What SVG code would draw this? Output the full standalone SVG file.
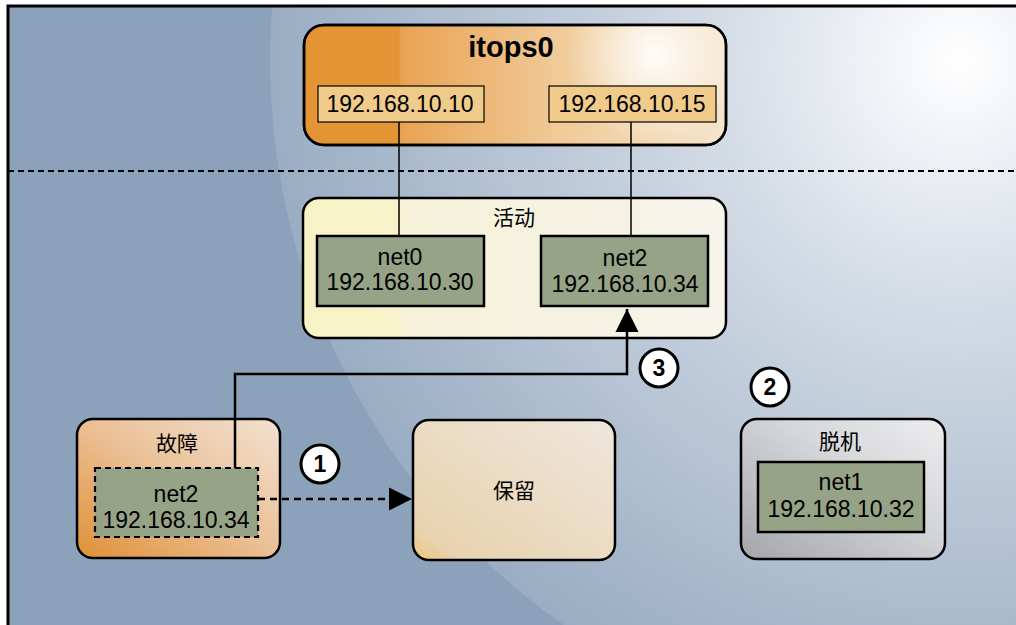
<svg xmlns="http://www.w3.org/2000/svg" width="1016" height="625" viewBox="0 0 1016 625">
<defs>
<radialGradient id="glow" cx="960" cy="60" r="690" gradientUnits="userSpaceOnUse">
<stop offset="0" stop-color="#ffffff"/>
<stop offset="0.1" stop-color="#f3f5f8"/>
<stop offset="0.35" stop-color="#d4dce6"/>
<stop offset="0.7" stop-color="#b4c2d3"/>
<stop offset="1" stop-color="#9aadc3"/>
</radialGradient>
<linearGradient id="orange" x1="304" y1="0" x2="726" y2="0" gradientUnits="userSpaceOnUse">
<stop offset="0" stop-color="#e39535"/>
<stop offset="0.225" stop-color="#e39535"/>
<stop offset="0.23" stop-color="#e9a253"/>
<stop offset="0.6" stop-color="#f0ca98"/>
<stop offset="1" stop-color="#f5e4cc"/>
</linearGradient>
<radialGradient id="star" cx="655" cy="55" r="90" gradientUnits="userSpaceOnUse">
<stop offset="0" stop-color="#ffffff" stop-opacity="0.95"/>
<stop offset="1" stop-color="#ffffff" stop-opacity="0"/>
</radialGradient>
<linearGradient id="fail" x1="0" y1="1" x2="1" y2="0">
<stop offset="0" stop-color="#df9035"/>
<stop offset="0.5" stop-color="#ebbf95"/>
<stop offset="1" stop-color="#f2e1d2"/>
</linearGradient>
<linearGradient id="active" x1="303" y1="0" x2="726" y2="0" gradientUnits="userSpaceOnUse">
<stop offset="0" stop-color="#f8f3c6"/>
<stop offset="0.22" stop-color="#f8f3c8"/>
<stop offset="0.24" stop-color="#f6f1d8"/>
<stop offset="1" stop-color="#f6f4ec"/>
</linearGradient>
<linearGradient id="standby" x1="0" y1="1" x2="1" y2="0">
<stop offset="0" stop-color="#ecc578"/>
<stop offset="0.12" stop-color="#e8d3b0"/>
<stop offset="1" stop-color="#efe6dc"/>
</linearGradient>
<linearGradient id="gray" x1="0" y1="1" x2="1" y2="0">
<stop offset="0" stop-color="#a3a5a9"/>
<stop offset="0.6" stop-color="#d6d7da"/>
<stop offset="1" stop-color="#ededee"/>
</linearGradient>
<marker id="arr" viewBox="0 0 10 10" refX="10" refY="5" markerWidth="23" markerHeight="24" markerUnits="userSpaceOnUse" orient="auto">
<path d="M0,0 L10,5 L0,10 Z" fill="#000"/>
</marker>
</defs>
<style>
.node{stroke:#000;stroke-width:2.5}
.ip{fill:#f0cb8a;stroke:#000;stroke-width:1.2}
.nic{fill:#97a386;stroke:#000;stroke-width:2.5}
.t{font-family:"Liberation Sans",Arial,sans-serif;font-size:23px;fill:#000;text-anchor:middle}
.title{font-family:"Liberation Sans",Arial,sans-serif;font-size:29px;font-weight:bold;fill:#000;text-anchor:middle}
.cjk{font-family:"Noto Sans CJK SC","Liberation Sans",sans-serif;font-size:21px;fill:#000;text-anchor:middle}
.link{fill:none;stroke:#000;stroke-width:1.5}
.flow{fill:none;stroke:#000;stroke-width:2.5}
.num{fill:#fff;stroke:#000;stroke-width:3}
.numt{font-family:"Liberation Sans",Arial,sans-serif;font-size:23px;font-weight:bold;fill:#000;text-anchor:middle}
</style>
<g id="background">
<rect x="0" y="0" width="1016" height="625" fill="#fff"/>
<rect x="8" y="6" width="1010" height="625" fill="#8ca1ba"/>
<circle cx="960" cy="60" r="690" fill="url(#glow)"/>
<rect x="0" y="0" width="8" height="625" fill="#fff"/>
<rect x="0" y="0" width="1016" height="6" fill="#fff"/>
<path d="M8,625 L8,6 L1016,6" fill="none" stroke="#000" stroke-width="3"/>
<line x1="8" y1="171" x2="1016" y2="171" stroke="#000" stroke-width="2" stroke-dasharray="6,4"/>
</g>
<g id="itops0">
<rect class="node" x="304" y="25" width="422" height="120" rx="20" fill="url(#orange)"/>
<rect x="304" y="25" width="422" height="120" rx="20" fill="url(#star)"/>
<rect x="304" y="25" width="422" height="120" rx="20" fill="none" stroke="#000" stroke-width="2.5"/>
<text x="511" y="57" class="title">itops0</text>
<rect class="ip" x="318" y="86" width="166" height="36"/>
<text x="400" y="112" class="t">192.168.10.10</text>
<rect class="ip" x="549" y="86" width="167" height="36"/>
<text x="632" y="112" class="t">192.168.10.15</text>
</g>
<g id="active">
<rect class="node" x="303" y="198" width="423" height="140" rx="16" fill="url(#active)"/>
<text x="514" y="225" class="cjk">活动</text>
<rect class="nic" x="317" y="236" width="167" height="70"/>
<text x="400" y="265" class="t">net0</text>
<text x="400" y="290" class="t">192.168.10.30</text>
<rect class="nic" x="541" y="236" width="167" height="70"/>
<text x="625" y="266" class="t">net2</text>
<text x="625" y="292" class="t">192.168.10.34</text>
</g>
<g id="failed">
<rect class="node" x="77" y="419" width="203" height="139" rx="16" fill="url(#fail)"/>
<text x="177" y="451" class="cjk">故障</text>
<rect x="95" y="468" width="163" height="69" fill="#97a386" stroke="#000" stroke-width="2.2" stroke-dasharray="6,4"/>
<text x="176" y="502" class="t">net2</text>
<text x="176" y="528" class="t">192.168.10.34</text>
</g>
<g id="standby">
<rect class="node" x="413" y="420" width="202" height="140" rx="16" fill="url(#standby)"/>
<text x="514" y="498" class="cjk">保留</text>
</g>
<g id="offline">
<rect class="node" x="741" y="419" width="204" height="140" rx="16" fill="url(#gray)"/>
<text x="840" y="449" class="cjk">脱机</text>
<rect class="nic" x="758" y="462" width="166" height="70"/>
<text x="841" y="490" class="t">net1</text>
<text x="841" y="517" class="t">192.168.10.32</text>
</g>
<g id="connectors">
<line class="link" x1="399" y1="122" x2="399" y2="236"/>
<line class="link" x1="631" y1="122" x2="631" y2="236"/>
<polyline class="flow" points="235,468 235,374 627,374 627,309" marker-end="url(#arr)"/>
<line class="flow" x1="258" y1="499" x2="412" y2="499" stroke-dasharray="7,5" marker-end="url(#arr)"/>
</g>
<g id="step1">
<circle class="num" cx="320" cy="464" r="19"/>
<text x="320" y="472" class="numt">1</text>
</g>
<g id="step2">
<circle class="num" cx="770" cy="387" r="19"/>
<text x="770" y="395" class="numt">2</text>
</g>
<g id="step3">
<circle class="num" cx="659" cy="368" r="19"/>
<text x="659" y="376" class="numt">3</text>
</g>
</svg>
